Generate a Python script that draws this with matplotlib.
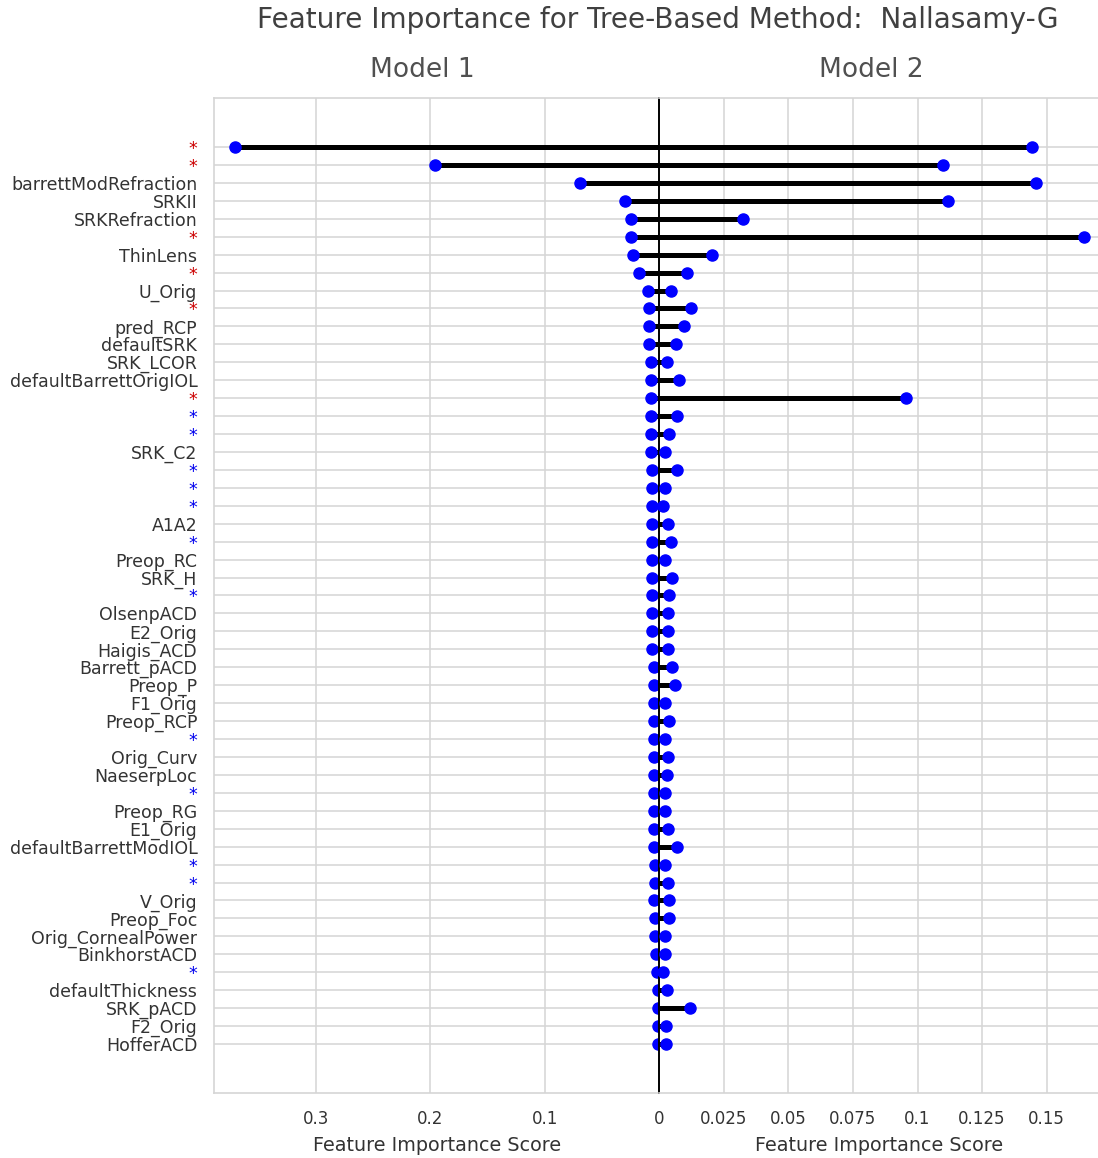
import matplotlib
matplotlib.use("Agg")
import matplotlib.pyplot as plt
import numpy as np

# Feature names (top to bottom); "*" rows are flagged features
features = [
    "*", "*", "barrettModRefraction", "SRKII", "SRKRefraction", "*", "ThinLens",
    "*", "U_Orig", "*", "pred_RCP", "defaultSRK", "SRK_LCOR",
    "defaultBarrettOrigIOL", "*", "*", "*", "SRK_C2", "*", "*", "*", "A1A2",
    "*", "Preop_RC", "SRK_H", "*", "OlsenpACD", "E2_Orig", "Haigis_ACD",
    "Barrett_pACD", "Preop_P", "F1_Orig", "Preop_RCP", "*", "Orig_Curv",
    "NaeserpLoc", "*", "Preop_RG", "E1_Orig", "defaultBarrettModIOL", "*", "*",
    "V_Orig", "Preop_Foc", "Orig_CornealPower", "BinkhorstACD", "*",
    "defaultThickness", "SRK_pACD", "F2_Orig", "HofferACD",
]
flag_colors = {1: "#cc0000", 2: "#0000ee"}
# 0 = named feature, 1 = red flag, 2 = blue flag
flags = [
    1, 1, 0, 0, 0, 1, 0, 1, 0, 1, 0, 0, 0, 0, 1, 2, 2, 0, 2, 2, 2, 0, 2, 0, 0,
    2, 0, 0, 0, 0, 0, 0, 0, 2, 0, 0, 2, 0, 0, 0, 2, 2, 0, 0, 0, 0, 2, 0, 0, 0, 0,
]

model1_scores = [
    0.371, 0.196, 0.069, 0.0302, 0.0251, 0.0251, 0.0227, 0.0176, 0.0097,
    0.0086, 0.0086, 0.0086, 0.0073, 0.0073, 0.0073, 0.0073, 0.0072, 0.0072,
    0.0061, 0.0061, 0.0061, 0.0061, 0.0061, 0.0061, 0.0061, 0.0061, 0.0061,
    0.0061, 0.0061, 0.0047, 0.0047, 0.0047, 0.0047, 0.0047, 0.0047, 0.0047,
    0.0047, 0.0047, 0.0047, 0.0047, 0.0038, 0.0038, 0.0045, 0.0038, 0.0038,
    0.0029, 0.0020, 0.0012, 0.0012, 0.0012, 0.0012,
]
model2_scores = [
    0.1445, 0.1100, 0.1457, 0.1117, 0.0324, 0.1646, 0.0206, 0.0108, 0.0045,
    0.0124, 0.0097, 0.0064, 0.0029, 0.0078, 0.0954, 0.0069, 0.0039, 0.0023,
    0.0067, 0.0023, 0.0013, 0.0033, 0.0045, 0.0023, 0.0050, 0.0039, 0.0033,
    0.0033, 0.0033, 0.0050, 0.0062, 0.0023, 0.0039, 0.0023, 0.0033, 0.0028,
    0.0023, 0.0023, 0.0033, 0.0067, 0.0023, 0.0033, 0.0039, 0.0039, 0.0023,
    0.0023, 0.0013, 0.0028, 0.0118, 0.0026, 0.0026,
]

left_ticks = [0.3, 0.2, 0.1, 0.0]
right_ticks = [0.025, 0.05, 0.075, 0.1, 0.125, 0.15]

TEXT = "#333333"
GRID = "#d5d5d5"

W, H = 1098, 1158
fig = plt.figure(figsize=(W / 100, H / 100), dpi=100)

x_left, x_mid, x_right = 214, 659.3, 1098
y_top, y_bot = 98, 1093
b = 1 - y_bot / H
h = (y_bot - y_top) / H
ax1 = fig.add_axes([x_left / W, b, (x_mid - x_left) / W, h])
ax2 = fig.add_axes([x_mid / W, b, (x_right - x_mid) / W, h])

y = np.arange(len(features))

for ax in (ax1, ax2):
    ax.set_facecolor("white")
    ax.grid(True, color=GRID, linewidth=1.1, zorder=0)
    ax.set_axisbelow(True)
    for s in ax.spines.values():
        s.set_color(GRID)
        s.set_linewidth(1.2)
    ax.set_ylim(len(features) - 1 + 2.73, -2.73)
    ax.tick_params(length=0, colors=TEXT)

# Model 1: mirrored to the left
ax1.hlines(y, 0, model1_scores, color="black", linewidth=3.6, zorder=2)
ax1.plot(model1_scores, y, "o", color="blue", markersize=8, zorder=3, clip_on=False)
ax1.set_xlim(0.3892, 0)
ax1.set_xticks(left_ticks)
ax1.set_xticklabels([f"{t:g}" for t in left_ticks], fontsize=12)
ax1.set_yticks(y)
ax1.set_yticklabels(features, fontsize=12.5)
ax1.tick_params(axis="y", pad=12)
ax1.tick_params(axis="x", pad=12)
for lbl, f in zip(ax1.get_yticklabels(), flags):
    if f:
        lbl.set_color(flag_colors[f])
ax1.spines["right"].set_visible(False)
ax1.set_xlabel("Feature Importance Score", fontsize=13.8, color=TEXT, labelpad=6)

# Model 2: to the right
ax2.hlines(y, 0, model2_scores, color="black", linewidth=3.6, zorder=2)
ax2.plot(model2_scores, y, "o", color="blue", markersize=8, zorder=3, clip_on=False)
ax2.set_xlim(0, 0.1699)
ax2.set_xticks(right_ticks)
ax2.set_xticklabels([f"{t:g}" for t in right_ticks], fontsize=12)
ax2.tick_params(axis="x", pad=12)
ax2.set_yticks(y)
ax2.set_yticklabels([])
ax2.spines["left"].set_visible(False)
ax2.spines["right"].set_visible(False)
ax2.set_xlabel("Feature Importance Score", fontsize=13.8, color=TEXT, labelpad=6)

# zero line shared by both panels
ax2.axvline(0, color="black", linewidth=1.4, zorder=2.5, clip_on=False)

fig.text(658 / W, 1 - 20 / H, "Feature Importance for Tree-Based Method:  Nallasamy-G",
         ha="center", va="center", fontsize=20.2, color="#404040")
fig.text(422 / W, 1 - 70 / H, "Model 1", ha="center", va="center", fontsize=19, color="#505050")
fig.text(871 / W, 1 - 70 / H, "Model 2", ha="center", va="center", fontsize=19, color="#505050")

fig.savefig("out.png", dpi=100)
